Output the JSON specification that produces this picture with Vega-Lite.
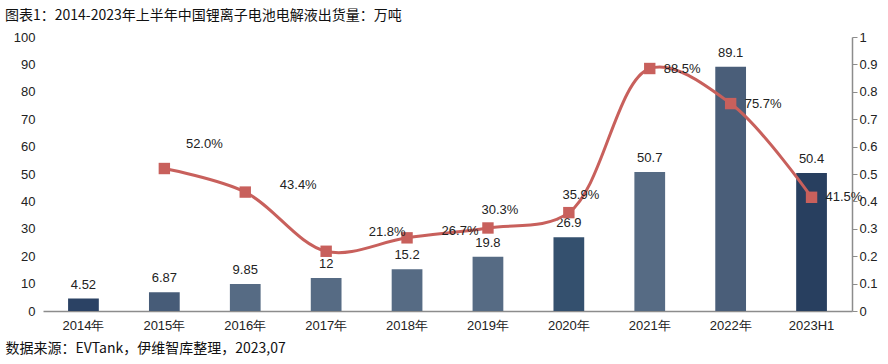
{
  "$schema": "https://vega.github.io/schema/vega-lite/v6.json",
  "width": 809,
  "height": 274,
  "autosize": {"type": "none"},
  "padding": {"left": 43, "top": 37, "right": 36, "bottom": 53},
  "background": "white",
  "config": {
    "view": {"stroke": null},
    "font": "Liberation Sans",
    "text": {"font": "Liberation Sans"}
  },
  "title": {
    "text": "图表1：2014-2023年上半年中国锂离子电池电解液出货量：万吨",
    "anchor": "start",
    "frame": "group",
    "dx": -38,
    "dy": 4,
    "offset": 12,
    "font": "Noto Sans CJK SC",
    "fontSize": 14,
    "fontWeight": "normal",
    "color": "#111111"
  },
  "data": {
    "values": [
      {"year": "2014年", "shipment": 4.52, "growth": null, "label": "4.52", "glabel": ""},
      {"year": "2015年", "shipment": 6.87, "growth": 0.52, "label": "6.87", "glabel": "52.0%"},
      {"year": "2016年", "shipment": 9.85, "growth": 0.434, "label": "9.85", "glabel": "43.4%"},
      {"year": "2017年", "shipment": 12, "growth": 0.218, "label": "12", "glabel": "21.8%"},
      {"year": "2018年", "shipment": 15.2, "growth": 0.267, "label": "15.2", "glabel": "26.7%"},
      {"year": "2019年", "shipment": 19.8, "growth": 0.303, "label": "19.8", "glabel": "30.3%"},
      {"year": "2020年", "shipment": 26.9, "growth": 0.359, "label": "26.9", "glabel": "35.9%"},
      {"year": "2021年", "shipment": 50.7, "growth": 0.885, "label": "50.7", "glabel": "88.5%"},
      {"year": "2022年", "shipment": 89.1, "growth": 0.757, "label": "89.1", "glabel": "75.7%"},
      {"year": "2023H1", "shipment": 50.4, "growth": 0.415, "label": "50.4", "glabel": "41.5%"}
    ]
  },
  "encoding": {
    "x": {
      "field": "year",
      "type": "nominal",
      "sort": null,
      "scale": {"paddingInner": 0.62, "paddingOuter": 0.31},
      "axis": {
        "title": "数据来源：EVTank，伊维智库整理，2023,07",
        "titleFont": "Noto Sans CJK SC",
        "titleFontSize": 14,
        "titleFontWeight": "normal",
        "titleColor": "#111111",
        "titleAnchor": "start",
        "titleAlign": "left",
        "titleX": -38,
        "titleY": 30,
        "labelAngle": 0,
        "labelFontSize": 13,
        "labelColor": "#222222",
        "labelFont": "Liberation Sans",
        "labelPadding": 8,
        "ticks": false,
        "domainColor": "#8c8c8c",
        "domainWidth": 1.5,
        "grid": false
      }
    }
  },
  "layer": [
    {
      "encoding": {
        "y": {
          "field": "shipment",
          "type": "quantitative",
          "scale": {"domain": [0, 100]},
          "axis": {
            "title": null,
            "values": [0,10,20,30,40,50,60,70,80,90,100],
            "labelOverlap": false,
            "grid": false,
            "domain": false,
            "ticks": false,
            "labelPadding": 8,
            "labelFontSize": 13,
            "labelColor": "#222222"
          }
        }
      },
      "layer": [
        {
          "mark": {"type": "bar"},
          "encoding": {
            "color": {
              "field": "year",
              "type": "nominal",
              "sort": null,
              "legend": null,
              "scale": {
                "domain": ["2014年","2015年","2016年","2017年","2018年","2019年","2020年","2021年","2022年","2023H1"],
                "range": ["#2b4264","#475c78","#566b84","#566b84","#566b84","#566b84","#34506e","#566b84","#4a5e79","#283f5f"]
              }
            }
          }
        },
        {
          "mark": {"type": "text", "baseline": "bottom", "dy": -7, "fontSize": 13, "color": "#222222"},
          "encoding": {"text": {"field": "label"}}
        }
      ]
    },
    {
      "transform": [{"filter": "datum.growth != null"}],
      "encoding": {
        "y": {
          "field": "growth",
          "type": "quantitative",
          "scale": {"domain": [0, 1]},
          "axis": {
            "title": null,
            "orient": "right",
            "values": [0,0.1,0.2,0.3,0.4,0.5,0.6,0.7,0.8,0.9,1],
            "labelExpr": "format(datum.value, '~g')",
            "labelOverlap": false,
            "grid": false,
            "domainColor": "#8c8c8c",
            "domainWidth": 1.5,
            "tickColor": "#8c8c8c",
            "tickSize": 5,
            "labelPadding": 2,
            "labelFontSize": 13,
            "labelColor": "#222222"
          }
        }
      },
      "layer": [
        {
          "mark": {"type": "line", "interpolate": "catmull-rom", "color": "#c8605c", "strokeWidth": 3}
        },
        {
          "mark": {"type": "square", "size": 130, "color": "#c8605c", "opacity": 1}
        },
        {
          "transform": [{"filter": "datum.year == '2015年'"}],
          "mark": {"type": "text", "dx": 40, "dy": -25, "fontSize": 13, "color": "#222222"},
          "encoding": {"text": {"field": "glabel"}}
        },
        {
          "transform": [{"filter": "datum.year == '2016年' || datum.year == '2018年'"}],
          "mark": {"type": "text", "dx": 53, "dy": -7, "fontSize": 13, "color": "#222222"},
          "encoding": {"text": {"field": "glabel"}}
        },
        {
          "transform": [{"filter": "datum.year == '2017年'"}],
          "mark": {"type": "text", "dx": 61, "dy": -19, "fontSize": 13, "color": "#222222"},
          "encoding": {"text": {"field": "glabel"}}
        },
        {
          "transform": [{"filter": "datum.year == '2019年' || datum.year == '2020年'"}],
          "mark": {"type": "text", "dx": 12, "dy": -18, "fontSize": 13, "color": "#222222"},
          "encoding": {"text": {"field": "glabel"}}
        },
        {
          "transform": [{"filter": "datum.year == '2021年' || datum.year == '2022年' || datum.year == '2023H1'"}],
          "mark": {"type": "text", "align": "left", "dx": 14, "dy": 0, "fontSize": 13, "color": "#222222"},
          "encoding": {"text": {"field": "glabel"}}
        }
      ]
    }
  ],
  "resolve": {"scale": {"y": "independent", "color": "independent"}}
}
